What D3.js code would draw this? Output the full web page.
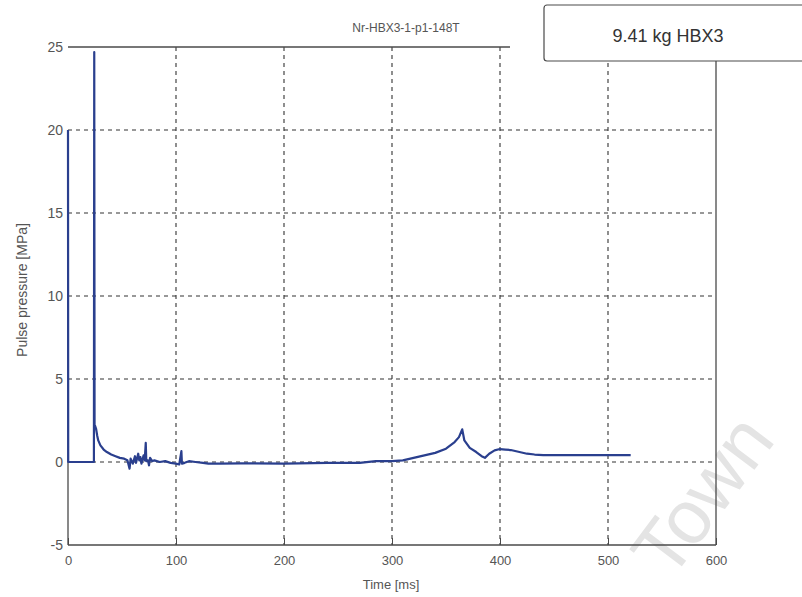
<!DOCTYPE html>
<html>
<head>
<meta charset="utf-8">
<script src="https://cdn.jsdelivr.net/npm/d3@7"></script>
<style>
  html, body { margin: 0; padding: 0; background: #fff; }
  svg { display: block; }
  text { font-family: "Liberation Sans", Arial, sans-serif; }
</style>
</head>
<body>
<svg id="chart" width="802" height="597"></svg>
<script>
// Pressure trace: time in ms, pulse pressure in MPa
const timeMs = [0, 0.2, 24, 24.3, 24.6, 25, 26, 27, 28, 30, 33, 36, 40, 44, 48, 52, 55, 57, 58, 60, 62, 63, 65, 66, 67, 68, 70, 71, 72, 72.5, 74, 75, 76, 78, 80, 85, 90, 95, 100, 103, 105, 105.5, 108, 112, 118, 125, 130, 140, 160, 200, 240, 270, 285, 300, 310, 320, 330, 340, 350, 358, 362, 365, 367, 372, 378, 383, 386, 390, 395, 400, 405, 410, 418, 425, 432, 440, 480, 521];
const pressure = [20, 0, 0, 24.7, 2.2, 2.2, 2.0, 1.6, 1.3, 1.0, 0.75, 0.6, 0.45, 0.35, 0.25, 0.2, 0.1, -0.4, 0.2, -0.1, 0.35, -0.05, 0.5, 0.1, 0.3, -0.1, 0.4, 0.1, 1.15, 0.05, 0.1, -0.2, 0.25, 0.05, 0.1, 0.0, 0.05, -0.05, -0.1, -0.15, 0.65, -0.1, -0.05, 0.05, 0.0, -0.05, -0.1, -0.1, -0.08, -0.1, -0.05, -0.05, 0.05, 0.05, 0.1, 0.25, 0.4, 0.55, 0.8, 1.2, 1.5, 1.97, 1.3, 0.85, 0.6, 0.35, 0.25, 0.5, 0.7, 0.78, 0.75, 0.72, 0.6, 0.5, 0.45, 0.42, 0.42, 0.42];

const xTicks = [0, 100, 200, 300, 400, 500, 600];
const yTicks = [-5, 0, 5, 10, 15, 20, 25];
const xGrid = [100, 200, 300, 400, 500];
const yGrid = [0, 5, 10, 15, 20];

const titleText = "Nr-HBX3-1-p1-148T";
const legendText = "9.41 kg HBX3";
const xLabel = "Time [ms]";
const yLabel = "Pulse pressure [MPa]";
const watermark = "Town";

const svg = d3.select("#chart");
const x = d3.scaleLinear().domain([0, 600]).range([68, 716]);
const y = d3.scaleLinear().domain([-5, 25]).range([545, 47]);

const axisColor = "#4a4a4a";
const textColor = "#555";
const plainNumber = d => String(d);

// faint background watermark
svg.append("text")
  .attr("transform", "translate(670,582) rotate(-53)")
  .attr("font-size", 76)
  .attr("fill", "#e4e4e4")
  .text(watermark);

// dashed grid
const grid = svg.append("g").attr("stroke", "#333").attr("stroke-width", 1.1)
  .attr("stroke-dasharray", "4,4");
grid.selectAll("line.v").data(xGrid).join("line")
  .attr("x1", d => x(d)).attr("x2", d => x(d))
  .attr("y1", y(25)).attr("y2", y(-5));
grid.selectAll("line.h").data(yGrid).join("line")
  .attr("x1", x(0)).attr("x2", x(600))
  .attr("y1", d => y(d)).attr("y2", d => y(d));

// axis frame
const frame = svg.append("g").attr("stroke", axisColor).attr("stroke-width", 1.3).attr("fill", "none");
frame.append("line").attr("x1", x(0)).attr("x2", x(600)).attr("y1", y(-5)).attr("y2", y(-5));
frame.append("line").attr("x1", x(0)).attr("x2", 510).attr("y1", y(25)).attr("y2", y(25));
frame.append("line").attr("x1", x(0)).attr("x2", x(0)).attr("y1", y(20)).attr("y2", y(-5));
frame.append("line").attr("x1", x(600)).attr("x2", x(600)).attr("y1", 61).attr("y2", y(-5));

// bottom axis ticks and labels
const xAxis = d3.axisBottom(x).tickValues(xTicks).tickSize(-7).tickPadding(11).tickFormat(plainNumber);
const gx = svg.append("g").attr("transform", `translate(0,${y(-5)})`).call(xAxis);
gx.select(".domain").remove();
gx.selectAll(".tick line").attr("stroke", axisColor);
gx.selectAll(".tick text").attr("fill", textColor).attr("font-size", 13)
  .attr("font-family", "'Liberation Sans', Arial, sans-serif");

// left axis labels
const yAxis = d3.axisLeft(y).tickValues(yTicks).tickSize(0).tickPadding(5).tickFormat(plainNumber);
const gy = svg.append("g").attr("transform", `translate(${x(0)},0)`).call(yAxis);
gy.select(".domain").remove();
gy.selectAll(".tick text").attr("fill", textColor).attr("font-size", 14)
  .attr("font-family", "'Liberation Sans', Arial, sans-serif");

// pressure trace
const line = d3.line().x((d, i) => x(timeMs[i])).y(d => y(d));
svg.append("path")
  .datum(pressure)
  .attr("d", line)
  .attr("fill", "none")
  .attr("stroke", "#2a3f8e")
  .attr("stroke-width", 2.2)
  .attr("stroke-linejoin", "round");

// title
svg.append("text").attr("x", 406).attr("y", 32).attr("text-anchor", "middle")
  .attr("font-size", 12).attr("fill", textColor).text(titleText);

// legend box
svg.append("rect").attr("x", 544).attr("y", 5).attr("width", 262).attr("height", 56)
  .attr("rx", 3).attr("fill", "#fff").attr("stroke", axisColor).attr("stroke-width", 1.2);
svg.append("text").attr("x", 668).attr("y", 42).attr("text-anchor", "middle")
  .attr("font-size", 18).attr("fill", "#333").text(legendText);

// axis titles
svg.append("text").attr("x", x(300) - 1).attr("y", 589).attr("text-anchor", "middle")
  .attr("font-size", 13).attr("fill", textColor).text(xLabel);
svg.append("text").attr("transform", `translate(27,290) rotate(-90)`)
  .attr("text-anchor", "middle").attr("font-size", 14).attr("fill", textColor).text(yLabel);
</script>
</body>
</html>
